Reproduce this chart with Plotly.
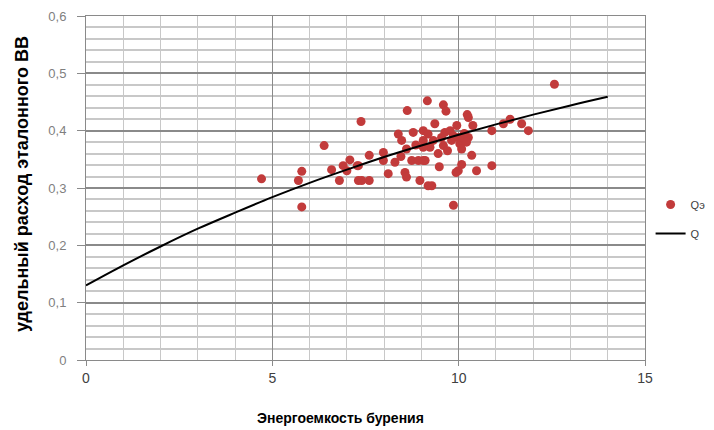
import plotly.graph_objects as go

# Scatter data (Qэ)
qe_x = [4.71, 5.79, 5.70, 5.79, 6.39, 6.59, 6.80, 6.90, 7.08, 7.00, 7.38, 7.31, 7.31,
        7.28, 7.40, 7.60, 7.60, 7.98, 7.98, 8.11, 8.29, 8.38, 8.47, 8.60, 8.62, 8.56,
        8.60, 8.74, 8.78, 8.92, 8.96, 9.05, 9.10, 9.16, 9.18, 9.59, 9.66, 9.05, 9.18,
        9.36, 9.32, 9.23, 9.05, 9.54, 9.63, 9.59, 9.77, 9.81, 9.86, 9.95, 9.99, 10.03,
        10.12, 10.08, 10.23, 10.26, 10.26, 10.21, 10.38, 10.35, 9.05, 9.48, 10.08, 9.99,
        9.93, 10.48, 10.89, 10.89, 9.28, 9.86, 12.57, 11.20, 11.38, 11.69, 11.87, 8.45,
        9.45, 10.15, 8.85, 9.70]
qe_y = [0.316, 0.329, 0.313, 0.267, 0.374, 0.332, 0.313, 0.339, 0.349, 0.330, 0.416, 0.339, 0.313,
        0.339, 0.313, 0.313, 0.357, 0.362, 0.348, 0.325, 0.345, 0.394, 0.383, 0.368, 0.435, 0.327,
        0.319, 0.348, 0.397, 0.348, 0.313, 0.383, 0.348, 0.452, 0.304, 0.445, 0.434, 0.400, 0.394,
        0.412, 0.383, 0.371, 0.371, 0.388, 0.397, 0.374, 0.400, 0.383, 0.391, 0.409, 0.388, 0.377,
        0.388, 0.368, 0.428, 0.423, 0.388, 0.380, 0.409, 0.357, 0.348, 0.337, 0.341, 0.330,
        0.327, 0.330, 0.339, 0.400, 0.304, 0.270, 0.481, 0.412, 0.420, 0.412, 0.400, 0.355,
        0.360, 0.395, 0.375, 0.365]

# Curve data (Q)
q_x = [0, 1, 2, 3, 4, 5, 6, 7, 8, 9, 10, 11, 12, 13, 14]
q_y = [0.130, 0.165, 0.198, 0.229, 0.257, 0.284, 0.309, 0.332, 0.354, 0.374, 0.393,
       0.411, 0.428, 0.444, 0.459]

x_ticks = [0, 5, 10, 15]
x_labels = ["0", "5", "10", "15"]
y_ticks = [0, 0.1, 0.2, 0.3, 0.4, 0.5, 0.6]
y_labels = ["0", "0,1", "0,2", "0,3", "0,4", "0,5", "0,6"]

FONT = "Liberation Sans, Arial, sans-serif"

W, H = 706, 422
ML, MR, MT, MB = 78, 69, 8, 70
PW, PH = W - ML - MR, H - MT - MB

fig = go.Figure()
fig.add_trace(go.Scatter(x=qe_x, y=qe_y, mode="markers", name="Qэ", legendgroup="a",
                         marker=dict(color="#C23B3B", size=9, line=dict(width=0))))
fig.add_trace(go.Scatter(x=q_x, y=q_y, mode="lines", name="Q", legendgroup="b",
                         line_shape="spline",
                         line=dict(color="black", width=2)))

fig.update_layout(
    width=W, height=H,
    margin=dict(l=ML, r=MR, t=MT, b=MB, autoexpand=False),
    paper_bgcolor="white", plot_bgcolor="white",
    font=dict(family=FONT, size=13, color="#595959"),
    showlegend=True,
    legend=dict(x=1.01, y=0.41, xanchor="left", yanchor="middle",
                font=dict(size=11, color="#404040"), bgcolor="rgba(0,0,0,0)",
                tracegroupgap=10),
    xaxis=dict(range=[0, 15], tickvals=x_ticks, ticktext=x_labels,
               showgrid=True, gridcolor="#8a8a8a", gridwidth=1,
               minor=dict(dtick=1, showgrid=True, gridcolor="#c8c8c8", gridwidth=1),
               showline=True, linecolor="#8a8a8a", mirror=True,
               ticks="outside", ticklen=5, tickcolor="#8a8a8a",
               zeroline=False, automargin=False,
               tickfont=dict(size=14, color="#404040")),
    yaxis=dict(range=[0, 0.6], tickvals=y_ticks, ticktext=y_labels,
               showgrid=True, gridcolor="#8a8a8a", gridwidth=1.5,
               minor=dict(dtick=0.02, showgrid=True, gridcolor="#c8c8c8", gridwidth=1.5),
               showline=True, linecolor="#8a8a8a", mirror=True,
               ticks="outside", ticklen=8, tickcolor="#8a8a8a",
               zeroline=False, automargin=False, ticklabelstandoff=8,
               tickfont=dict(size=13, color="#7f7f7f")),
    annotations=[
        dict(text="<b>Энергоемкость бурения</b>", xref="paper", yref="paper",
             x=(340 - 86) / PW, y=-(418 - 360) / PH, xanchor="center", yanchor="middle",
             showarrow=False, font=dict(size=14, color="#000000", family=FONT)),
        dict(text="<b>удельный расход эталонного ВВ</b>", xref="paper", yref="paper",
             x=-(86 - 22) / PW, y=(360 - 184) / PH, xanchor="center", yanchor="middle",
             textangle=-90, showarrow=False,
             font=dict(size=18, color="#000000", family=FONT)),
    ],
)

fig.write_html("out.html")
